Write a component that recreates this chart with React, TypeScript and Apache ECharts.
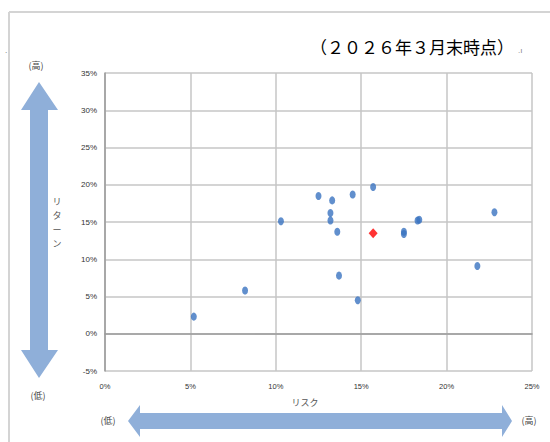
import React, { useEffect, useRef } from "react";
import * as echarts from "echarts";

const riskValues = [5.2, 8.2, 10.3, 12.5, 13.3, 13.2, 13.2, 13.6, 13.7, 14.5, 14.8, 15.7, 17.5, 17.5, 18.3, 18.4, 21.8, 22.8];
const returnValues = [2.3, 5.8, 15.1, 18.5, 17.9, 16.2, 15.2, 13.7, 7.8, 18.7, 4.5, 19.7, 13.7, 13.4, 15.2, 15.3, 9.1, 16.3];
const highlightRisk = [15.7];
const highlightReturn = [13.5];

const title = "（２０２６年３月末時点）";
const xName = "リスク";
const yName = "リターン";
const highLabel = "(高)";
const lowLabel = "(低)";

const arrowColor = "#8fafd9";

export default function App() {
  const ref = useRef<HTMLDivElement>(null);
  useEffect(() => {
    if (!ref.current) return;
    const chart = echarts.init(ref.current, null, { renderer: "svg" });
    const labelFont = "Liberation Sans";
    chart.setOption({
      animation: false,
      backgroundColor: "#ffffff",
      grid: { left: 105, right: 18, top: 73, bottom: 71, containLabel: false },
      xAxis: {
        type: "value",
        min: 0,
        max: 25,
        interval: 5,
        axisLine: { show: true, lineStyle: { color: "#9a9a9a", width: 1.5 } },
        axisTick: { show: false },
        splitLine: { show: true, lineStyle: { color: "#c6c6c6", width: 1.5 } },
        axisLabel: {
          formatter: "{value}%",
          fontSize: 7.5,
          color: "#333",
          fontFamily: labelFont,
          margin: 11,
          showMaxLabel: true,
        },
      },
      yAxis: {
        type: "value",
        min: -5,
        max: 35,
        interval: 5,
        axisLine: { show: true, onZero: false, lineStyle: { color: "#9a9a9a", width: 1.5 } },
        axisTick: { show: false },
        splitLine: { show: true, lineStyle: { color: "#c6c6c6", width: 1.5 } },
        axisLabel: {
          formatter: "{value}%",
          fontSize: 8,
          color: "#333",
          fontFamily: labelFont,
          margin: 8,
        },
      },
      series: [
        {
          type: "scatter",
          data: riskValues.map((x, i) => [x, returnValues[i]]),
          symbol: "circle",
          symbolSize: [6, 8],
          itemStyle: { color: "#3a73c1" },
        },
        {
          type: "scatter",
          data: highlightRisk.map((x, i) => [x, highlightReturn[i]]),
          symbol: "diamond",
          symbolSize: [9, 10],
          itemStyle: { color: "#ff0000" },
          z: 5,
        },
      ],
      graphic: [
        { type: "line", shape: { x1: 9, y1: 12, x2: 550, y2: 12 }, style: { stroke: "#d4d4d4", lineWidth: 2 } },
        { type: "line", shape: { x1: 9, y1: 12, x2: 9, y2: 442 }, style: { stroke: "#d4d4d4", lineWidth: 2 } },
        {
          type: "text",
          x: 310,
          y: 46,
          style: {
            text: title,
            fontSize: 17,
            fontFamily: "Noto Sans CJK JP",
            fill: "#000",
            textVerticalAlign: "middle",
          },
        },
        { type: "text", x: 5, y: 46, style: { text: ".", fontSize: 8, fill: "#666" } },
        { type: "text", x: 518, y: 46, style: { text: ".ı", fontSize: 8, fill: "#888" } },
        {
          type: "polygon",
          shape: {
            points: [
              [39, 82], [58, 110], [48, 110], [48, 350], [58, 350], [39, 378],
              [21, 350], [30, 350], [30, 110], [21, 110],
            ],
          },
          style: { fill: arrowColor },
        },
        {
          type: "polygon",
          shape: {
            points: [
              [128, 421], [140, 405], [140, 413], [502, 413], [502, 405], [512, 421],
              [502, 437], [502, 429], [140, 429], [140, 437],
            ],
          },
          style: { fill: arrowColor },
        },
        {
          type: "text",
          x: 36,
          y: 65,
          style: { text: highLabel, fontSize: 9, fill: "#444", fontFamily: "Noto Sans CJK JP", textAlign: "center", textVerticalAlign: "middle" },
        },
        {
          type: "text",
          x: 38,
          y: 395,
          style: { text: lowLabel, fontSize: 9, fill: "#444", fontFamily: "Noto Sans CJK JP", textAlign: "center", textVerticalAlign: "middle" },
        },
        {
          type: "text",
          x: 108,
          y: 420,
          style: { text: lowLabel, fontSize: 9, fill: "#444", fontFamily: "Noto Sans CJK JP", textAlign: "center", textVerticalAlign: "middle" },
        },
        {
          type: "text",
          x: 529,
          y: 420,
          style: { text: highLabel, fontSize: 9, fill: "#444", fontFamily: "Noto Sans CJK JP", textAlign: "center", textVerticalAlign: "middle" },
        },
        {
          type: "text",
          x: 305,
          y: 402,
          style: { text: xName, fontSize: 9, fill: "#555", fontFamily: "Noto Sans CJK JP", textAlign: "center", textVerticalAlign: "middle" },
        },
        {
          type: "text",
          x: 57,
          y: 222,
          style: {
            text: yName.split("").join("\n"),
            fontSize: 9,
            lineHeight: 14,
            fill: "#555",
            fontFamily: "Noto Sans CJK JP",
            textAlign: "center",
            textVerticalAlign: "middle",
          },
        },
      ],
    });
    return () => chart.dispose();
  }, []);
  return (
    <div
      ref={ref}
      style={{ position: "fixed", left: 0, top: 0, width: 550, height: 442 }}
    />
  );
}
